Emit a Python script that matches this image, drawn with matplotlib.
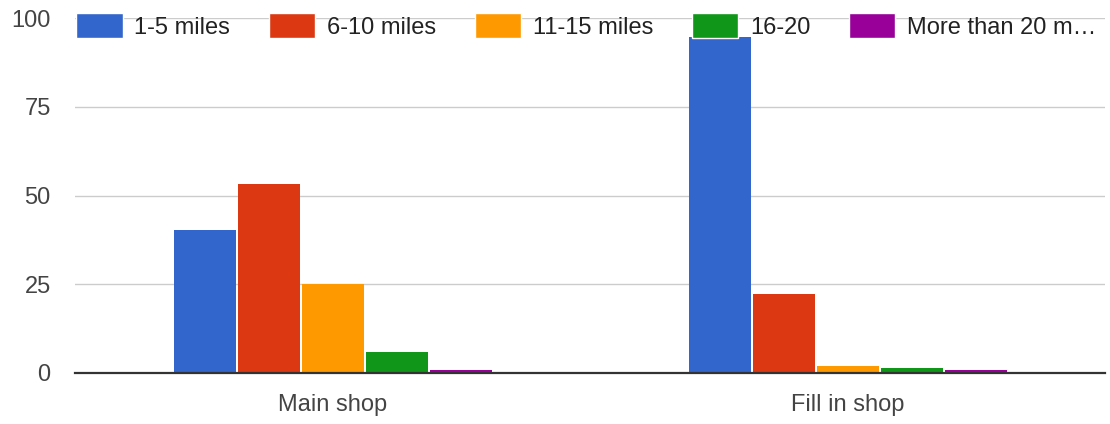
import numpy as np
import matplotlib
matplotlib.use("Agg")
import matplotlib.pyplot as plt
from matplotlib.patches import Patch

plt.rcParams['font.family'] = ['Liberation Sans', 'DejaVu Sans']

# data
shops = ['Main shop', 'Fill in shop']
series = ['1-5 miles', '6-10 miles', '11-15 miles', '16-20', 'More than 20 m\u2026']
colors = ['#3366cc', '#dc3912', '#ff9900', '#109618', '#990099']
main_shop = [40.4, 53.4, 25.2, 6.0, 0.8]
fill_in_shop = [94.6, 22.4, 2.1, 1.5, 0.8]
yticks = [0, 25, 50, 75, 100]

values = np.array([main_shop, fill_in_shop])

fig = plt.figure(figsize=(11.1, 4.24), dpi=100)
ax = fig.add_axes([0.0676, 0.1203, 0.928, 0.8365])

x = np.arange(len(shops))
step = 0.1243
width = 0.1204
for i, name in enumerate(series):
    off = (i - 2) * step
    ax.bar(x + off, values[:, i], width=width, color=colors[i], zorder=3)

ax.set_xlim(-0.5, 1.5)
ax.set_ylim(0, 100)
ax.set_yticks(yticks)
ax.set_xticks(x)
ax.set_xticklabels(shops)
ax.tick_params(axis='both', length=0, labelsize=17, colors='#444444')
ax.tick_params(axis='y', pad=17.5)
ax.tick_params(axis='x', pad=15)
for s in ax.spines.values():
    s.set_visible(False)
ax.set_axisbelow(True)
ax.yaxis.grid(True, color='#cccccc', linewidth=1.0)
ax.axhline(0, color='#333333', linewidth=1.6, zorder=4, clip_on=False)

handles = [Patch(facecolor=c, edgecolor='white', linewidth=1.0) for c in colors]
leg = fig.legend(handles, series, ncol=5, loc='upper left',
                 bbox_to_anchor=(0.0625, 0.985), frameon=False,
                 fontsize=17, handlelength=1.95, handleheight=1.25,
                 handletextpad=0.5, columnspacing=1.65, borderaxespad=0.0,
                 borderpad=0.3, labelcolor='#222222')

fig.savefig('out.png', dpi=100)
